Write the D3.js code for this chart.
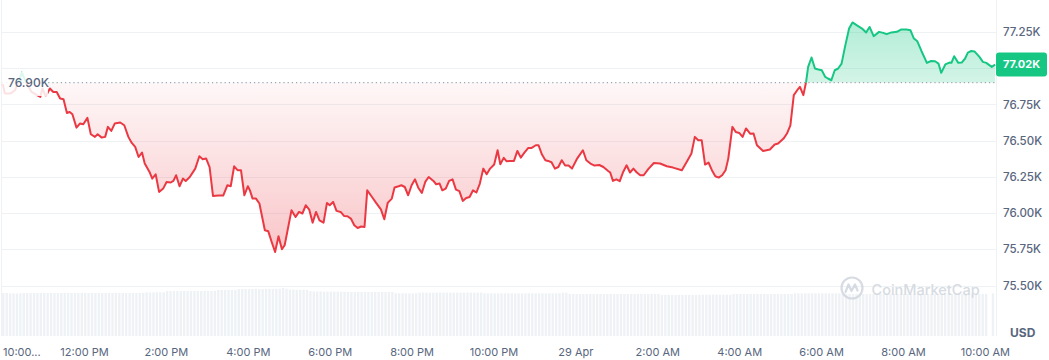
<!DOCTYPE html>
<html>
<head>
<meta charset="utf-8">
<script src="https://cdn.jsdelivr.net/npm/d3@7"></script>
<style>
  html, body { margin: 0; padding: 0; background: #fff; }
  svg { display: block; font-family: Inter, 'Noto Sans', sans-serif; }
</style>
</head>
<body>
<div id="wrapper"></div>
<script>
// 1. Data (BTC / USD, 28 Apr 10:00 -> 29 Apr 10:15)

const startTime = Date.UTC(2025, 3, 28, 10, 0);
const baselinePrice = 76900;
const currentLabel = '77.02K';

// minutes after 28 Apr 10:00
const minutesFromStart = [
  1, 4, 12, 19, 29, 36, 43, 51, 56, 59, 63, 65, 70, 75, 80, 85, 90, 95, 99, 103,
  109, 114, 119, 125, 130, 136, 140, 146, 151, 155, 160, 165, 173, 179, 185, 190, 195, 200, 205, 209,
  216, 220, 225, 230, 236, 241, 247, 251, 255, 260, 265, 269, 275, 283, 289, 294, 299, 304, 309, 317,
  324, 330, 335, 340, 345, 350, 355, 360, 363, 367, 372, 377, 385, 390, 395, 400, 405, 410, 414, 424,
  430, 435, 440, 445, 450, 455, 460, 465, 471, 476, 480, 485, 490, 496, 501, 506, 511, 516, 521, 526,
  531, 535, 542, 548, 555, 560, 565, 571, 575, 581, 585, 590, 595, 600, 605, 610, 615, 620, 625, 632,
  636, 641, 645, 650, 655, 660, 665, 670, 675, 680, 685, 690, 695, 700, 705, 710, 715, 721, 726, 730,
  735, 739, 744, 750, 755, 760, 765, 771, 776, 782, 786, 791, 796, 800, 805, 810, 815, 820, 825, 830,
  835, 842, 851, 856, 862, 868, 875, 881, 888, 891, 895, 900, 905, 910, 915, 920, 925, 930, 935, 940,
  947, 955, 964, 974, 983, 996, 1003, 1010, 1015, 1020, 1025, 1030, 1035, 1040, 1045, 1050, 1055, 1060, 1064, 1070,
  1075, 1080, 1085, 1090, 1096, 1101, 1106, 1115, 1125, 1132, 1137, 1145, 1150, 1155, 1160, 1165, 1169, 1174, 1178, 1181,
  1186, 1191, 1196, 1201, 1206, 1210, 1215, 1220, 1225, 1230, 1235, 1241, 1246, 1252, 1260, 1266, 1271, 1277, 1285, 1291,
  1296, 1303, 1311, 1317, 1325, 1331, 1336, 1341, 1347, 1355, 1361, 1367, 1372, 1376, 1382, 1388, 1391, 1395, 1401, 1406,
  1411, 1415, 1420, 1425, 1432, 1437, 1442, 1450, 1455
];

const prices = [
  76890, 76825, 76825, 76848, 76970, 76894, 76836, 76814, 76802, 76860, 76814, 76814, 76860, 76836, 76836, 76791, 76786, 76691, 76698, 76682,
  76590, 76618, 76613, 76657, 76544, 76526, 76544, 76521, 76526, 76595, 76567, 76618, 76625, 76606, 76526, 76484, 76457, 76387, 76418, 76342,
  76284, 76238, 76268, 76146, 76169, 76215, 76211, 76222, 76261, 76185, 76238, 76222, 76249, 76307, 76392, 76372, 76376, 76318, 76118, 76121,
  76121, 76192, 76185, 76323, 76296, 76296, 76123, 76185, 76158, 76100, 76100, 76066, 75881, 75874, 75800, 75731, 75840, 75750, 75778, 76019,
  75973, 76008, 75997, 76054, 76024, 75934, 76008, 75950, 75934, 76070, 76054, 76077, 76015, 76008, 75980, 75978, 75962, 75916, 75897, 75907,
  75904, 76157, 76111, 76070, 76026, 75957, 76070, 76100, 76176, 76185, 76192, 76180, 76123, 76192, 76233, 76173, 76139, 76215, 76249, 76222,
  76199, 76204, 76157, 76169, 76222, 76233, 76162, 76151, 76084, 76104, 76111, 76157, 76142, 76204, 76307, 76268, 76307, 76335, 76434, 76337,
  76381, 76358, 76360, 76360, 76429, 76383, 76415, 76450, 76450, 76468, 76468, 76404, 76365, 76360, 76351, 76307, 76318, 76365, 76328, 76328,
  76307, 76372, 76434, 76365, 76342, 76328, 76332, 76318, 76291, 76280, 76222, 76233, 76220, 76284, 76330, 76280, 76307, 76280, 76261, 76261,
  76305, 76346, 76342, 76323, 76314, 76296, 76353, 76411, 76526, 76503, 76503, 76335, 76349, 76296, 76254, 76245, 76261, 76296, 76376, 76595,
  76560, 76553, 76526, 76584, 76548, 76549, 76468, 76429, 76439, 76473, 76480, 76514, 76549, 76606, 76814, 76848, 76871, 76814, 76905, 77009,
  77074, 76998, 76991, 76986, 76940, 76929, 76917, 76986, 76998, 77032, 77147, 77274, 77316, 77297, 77274, 77247, 77285, 77221, 77251, 77244,
  77235, 77247, 77251, 77267, 77267, 77262, 77205, 77186, 77119, 77037, 77050, 77048, 77032, 76968, 77026, 77039, 77037, 77083, 77037, 77039,
  77067, 77108, 77119, 77115, 77078, 77044, 77037, 77009, 77025
];

// 24h volume (billion USD), one bar every 5 minutes
const volumeBillions = [
  25.1, 25.1, 24.9, 24.8, 24.8, 24.9, 25.1, 25.1, 25.1, 25.1, 25.1, 25.1,
  25.1, 25.1, 25.2, 25.1, 25.1, 25.1, 25.2, 25.1, 25.1, 25.1, 25.1, 25.2,
  25.2, 25.1, 25.1, 25.1, 25.2, 25.1, 25.1, 25.1, 25.1, 25.2, 25.1, 25.1,
  25.1, 25.1, 25.1, 25.1, 25.2, 25.2, 25.4, 25.4, 25.4, 25.5, 25.5, 25.5,
  26.2, 26.2, 26.3, 26.2, 26.2, 26.3, 26.2, 26.2, 26.3, 26.2, 26.2, 26.3,
  26.3, 26.3, 26.4, 26.8, 26.8, 26.8, 26.9, 26.8, 26.8, 27.4, 27.4, 27.4,
  27.4, 27.4, 27.5, 27.4, 27.4, 27.5, 27.5, 27.4, 27.5, 27.6, 28.0, 27.6,
  27.2, 27.1, 27.0, 27.0, 27.0, 26.9, 26.2, 26.0, 26.0, 26.0, 25.9, 25.9,
  25.9, 25.9, 25.9, 25.8, 25.8, 25.7, 25.7, 25.7, 25.7, 25.7, 25.7, 25.7,
  25.7, 25.7, 25.7, 25.7, 25.7, 25.7, 25.7, 24.9, 24.9, 24.9, 24.9, 24.9,
  24.9, 24.9, 25.3, 25.3, 25.3, 25.3, 25.3, 25.3, 25.3, 25.3, 25.3, 25.3,
  25.3, 25.3, 25.3, 25.3, 25.3, 25.3, 25.3, 25.3, 25.3, 24.9, 24.9, 24.9,
  24.9, 24.9, 24.9, 24.9, 24.9, 24.9, 24.9, 24.9, 24.9, 24.9, 24.9, 24.9,
  24.9, 24.9, 24.9, 24.9, 24.9, 24.9, 24.9, 24.9, 25.3, 25.3, 24.5, 24.5,
  24.5, 24.5, 24.5, 24.5, 24.5, 24.5, 24.5, 24.5, 24.5, 24.5, 24.5, 24.5,
  24.5, 24.5, 24.5, 24.5, 24.5, 24.5, 24.5, 24.5, 24.5, 24.5, 24.5, 24.5,
  24.5, 23.9, 23.9, 23.9, 23.9, 23.9, 23.9, 23.9, 23.9, 23.9, 23.9, 23.9,
  24.1, 24.1, 24.1, 24.1, 24.1, 24.1, 24.1, 24.1, 24.1, 24.1, 24.5, 24.5,
  24.5, 24.5, 24.5, 24.5, 24.5, 24.5, 24.5, 24.5, 24.5, 24.5, 24.5, 24.5,
  24.5, 24.5, 24.5, 24.5, 24.9, 24.9, 24.9, 24.9, 24.9, 24.9, 24.9, 24.9,
  24.9, 24.9, 24.9, 24.9, 24.9, 24.9, 24.5, 24.5, 24.5, 24.5, 24.5, 24.5,
  24.5, 24.5, 24.5, 24.5, 24.5, 24.5, 24.5, 24.5, 24.5, 24.5, 24.5, 24.5,
  24.5, 24.5, 24.5, 24.5, 24.5, 24.5, 24.5, 24.5, 24.5, 24.5, 24.5, 24.5,
  24.5, 24.5, 24.5, 24.5, 24.5, 24.5, 24.5, 24.5, 24.5, 24.5, 24.5, 24.5,
  24.5, null, 24.9
];

const yTickValues = [75500, 75750, 76000, 76250, 76500, 76750, 77000, 77250];
const yTickLabels = ['75.50K', '75.75K', '76.00K', '76.25K', '76.50K', '76.75K', '', '77.25K'];
const xTickHours = [0, 2, 4, 6, 8, 10, 12, 14, 16, 18, 20, 22, 24];
const xTickLabels = ['10:00...', '12:00 PM', '2:00 PM', '4:00 PM', '6:00 PM', '8:00 PM', '10:00 PM',
  '29 Apr', '2:00 AM', '4:00 AM', '6:00 AM', '8:00 AM', '10:00 AM'];

const dataset = minutesFromStart.map((m, i) => ({
  date: new Date(startTime + m * 60000),
  price: prices[i],
}));
const xAccessor = (d) => d.date;
const yAccessor = (d) => d.price;

// 2. Dimensions

const dimensions = { width: 1049, height: 360, plotLeft: 2, plotRight: 996.5, volBottom: 336 };
const red = '#ea3943';
const green = '#16c784';
const grey = '#58667e';

// 3. Canvas

const wrapper = d3.select('#wrapper')
  .append('svg')
  .attr('width', dimensions.width)
  .attr('height', dimensions.height);

const defs = wrapper.append('defs');

// 4. Scales

const xScale = d3.scaleUtc()
  .domain([new Date(startTime), new Date(startTime + 24 * 3600000)])
  .range([2.1, 984.9]);

const yScale = d3.scaleLinear()
  .domain([75500, 77250])
  .range([285.5, 32]);

const volScale = d3.scaleLinear()
  .domain([0, 28])
  .range([dimensions.volBottom, 288]);

const baseY = yScale(baselinePrice);

// gradients
const greenGrad = defs.append('linearGradient').attr('id', 'green-grad')
  .attr('gradientUnits', 'userSpaceOnUse')
  .attr('x1', 0).attr('x2', 0).attr('y1', 20).attr('y2', baseY);
greenGrad.append('stop').attr('offset', 0).attr('stop-color', green).attr('stop-opacity', 0.33);
greenGrad.append('stop').attr('offset', 1).attr('stop-color', green).attr('stop-opacity', 0.19);

const redGrad = defs.append('linearGradient').attr('id', 'red-grad')
  .attr('gradientUnits', 'userSpaceOnUse')
  .attr('x1', 0).attr('x2', 0).attr('y1', baseY).attr('y2', 260);
redGrad.append('stop').attr('offset', 0).attr('stop-color', red).attr('stop-opacity', 0.04);
redGrad.append('stop').attr('offset', 1).attr('stop-color', red).attr('stop-opacity', 0.3);

defs.append('clipPath').attr('id', 'clip-above')
  .append('rect').attr('x', 0).attr('y', 0).attr('width', dimensions.width).attr('height', baseY);
defs.append('clipPath').attr('id', 'clip-below')
  .append('rect').attr('x', 0).attr('y', baseY).attr('width', dimensions.width).attr('height', dimensions.height);

// 5. Peripherals behind the data

// frame lines
wrapper.selectAll('.frame')
  .data([dimensions.plotLeft - 0.5, dimensions.plotRight])
  .join('line')
  .attr('x1', (d) => d).attr('x2', (d) => d)
  .attr('y1', 0).attr('y2', dimensions.volBottom)
  .attr('stroke', '#eff2f5');

// grid
wrapper.append('g')
  .selectAll('line')
  .data(yTickValues)
  .join('line')
  .attr('x1', dimensions.plotLeft).attr('x2', dimensions.plotRight)
  .attr('y1', (d) => Math.round(yScale(d)) + 0.5)
  .attr('y2', (d) => Math.round(yScale(d)) + 0.5)
  .attr('stroke', '#eff2f5');

// volume
wrapper.append('g')
  .selectAll('rect')
  .data(volumeBillions.map((v, i) => ({ date: new Date(startTime + i * 5 * 60000), v })).filter((d) => d.v != null))
  .join('rect')
  .attr('x', (d) => xScale(d.date))
  .attr('width', 2.4)
  .attr('y', (d) => volScale(d.v))
  .attr('height', (d) => dimensions.volBottom - volScale(d.v))
  .attr('fill', '#eff2f5');

// watermark
const wm = wrapper.append('g').attr('opacity', 0.9);
wm.append('circle').attr('cx', 852).attr('cy', 288).attr('r', 10.5)
  .attr('fill', 'none').attr('stroke', '#d3d8e0').attr('stroke-width', 2.2);
wm.append('path')
  .attr('d', 'M845.5,292 L848.5,284.5 L851.5,291 L855,284.5 L857.5,290.5')
  .attr('fill', 'none').attr('stroke', '#d3d8e0').attr('stroke-width', 2.2)
  .attr('stroke-linejoin', 'round').attr('stroke-linecap', 'round');
wm.append('text').attr('x', 871.5).attr('y', 295)
  .attr('font-size', 14.5).attr('font-weight', 500).attr('fill', '#d3d8e0')
  .text('CoinMarketCap');

// 6. Draw data

const areaGenerator = d3.area()
  .x((d) => xScale(xAccessor(d)))
  .y0(baseY)
  .y1((d) => yScale(yAccessor(d)));

const lineGenerator = d3.line()
  .x((d) => xScale(xAccessor(d)))
  .y((d) => yScale(yAccessor(d)));

wrapper.append('path').attr('clip-path', 'url(#clip-above)')
  .attr('d', areaGenerator(dataset)).attr('fill', 'url(#green-grad)');
wrapper.append('path').attr('clip-path', 'url(#clip-below)')
  .attr('d', areaGenerator(dataset)).attr('fill', 'url(#red-grad)');

// baseline
wrapper.append('line')
  .attr('x1', dimensions.plotLeft).attr('x2', dimensions.plotRight)
  .attr('y1', baseY).attr('y2', baseY)
  .attr('stroke', '#8a919e').attr('stroke-width', 1)
  .attr('stroke-dasharray', '1.2,3');

wrapper.append('path').attr('clip-path', 'url(#clip-above)')
  .attr('d', lineGenerator(dataset)).attr('fill', 'none')
  .attr('stroke', green).attr('stroke-width', 2).attr('stroke-linejoin', 'round');
wrapper.append('path').attr('clip-path', 'url(#clip-below)')
  .attr('d', lineGenerator(dataset)).attr('fill', 'none')
  .attr('stroke', red).attr('stroke-width', 2).attr('stroke-linejoin', 'round');

// baseline label with its veil
wrapper.append('rect')
  .attr('x', dimensions.plotLeft).attr('y', 72).attr('width', 46).attr('height', 24)
  .attr('fill', '#fff').attr('opacity', 0.85);
wrapper.append('text')
  .attr('x', 8).attr('y', baseY).attr('dy', '0.36em')
  .attr('font-size', 12).attr('font-weight', 500).attr('fill', grey)
  .text('76.90K');

// 7. Axes

const yAxis = wrapper.append('g')
  .attr('transform', 'translate(1003, 0)')
  .call(d3.axisRight(yScale).tickValues(yTickValues)
    .tickFormat((d, i) => yTickLabels[i]).tickSize(0).tickPadding(0));
yAxis.select('.domain').remove();
yAxis.selectAll('text')
  .attr('font-family', 'Inter, sans-serif')
  .attr('font-size', 11.5).attr('font-weight', 500).attr('fill', grey);

const xAxis = wrapper.append('g')
  .attr('transform', 'translate(0, 348)')
  .call(d3.axisBottom(xScale)
    .tickValues(xTickHours.map((h) => new Date(startTime + h * 3600000)))
    .tickFormat((d, i) => xTickLabels[i]).tickSize(0).tickPadding(0));
xAxis.select('.domain').remove();
xAxis.selectAll('text')
  .attr('font-family', 'Inter, sans-serif')
  .attr('font-size', 11).attr('fill', grey);
xAxis.selectAll('.tick').filter((d, i) => i === 0)
  .attr('transform', 'translate(3,0)')
  .select('text').attr('text-anchor', 'start');

wrapper.append('text')
  .attr('x', 1010).attr('y', 337)
  .attr('font-size', 12).attr('font-weight', 700).attr('fill', grey)
  .text('USD');

// current price tag
const last = dataset[dataset.length - 1];
const tagY = yScale(yAccessor(last));
wrapper.append('rect')
  .attr('x', 996).attr('y', tagY - 12).attr('width', 51).attr('height', 24)
  .attr('rx', 3).attr('fill', green);
wrapper.append('text')
  .attr('x', 1021.5).attr('y', tagY).attr('dy', '0.35em')
  .attr('text-anchor', 'middle')
  .attr('font-size', 11).attr('font-weight', 700).attr('fill', '#fff')
  .text(currentLabel);
</script>
</body>
</html>
